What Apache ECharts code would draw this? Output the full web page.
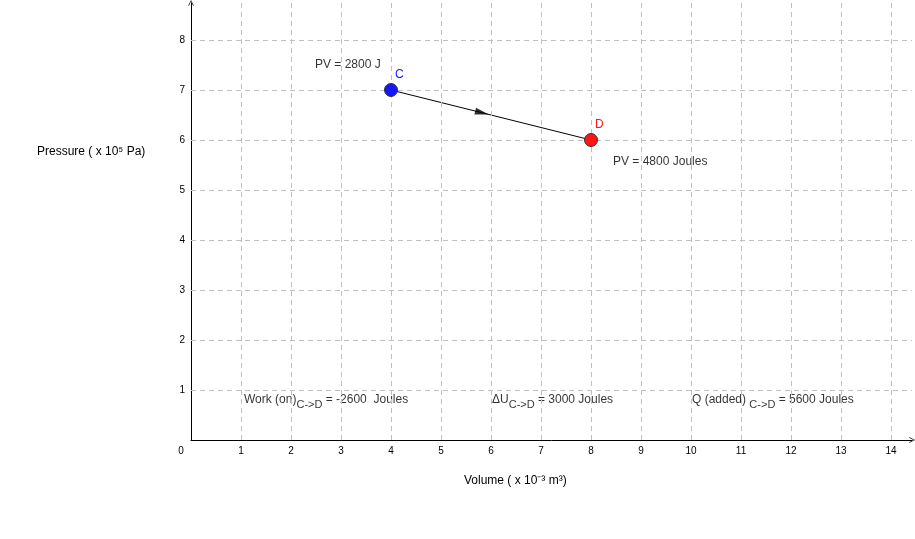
<!DOCTYPE html>
<html lang="en">
<head>
    <meta charset="UTF-8">
    <title>Process C to D</title>
    <style>
        html, body { margin: 0; padding: 0; background: #fff; }
    </style>
</head>
<body>
    <div id="main" style="width: 915px;height:539px;"></div>
    <script src="https://cdn.jsdelivr.net/npm/echarts@6/dist/echarts.min.js"></script>
<script type="text/javascript">
    // states of the gas: volume (x10^-3 m3) and pressure (x10^5 Pa)
    var pointNames = ['C', 'D'];
    var volumes = [4, 8];
    var pressures = [7, 6];
    var pointColors = ['#1515ff', '#ff1515'];

    // grid lines
    var xTicks = [1, 2, 3, 4, 5, 6, 7, 8, 9, 10, 11, 12, 13, 14];
    var yTicks = [1, 2, 3, 4, 5, 6, 7, 8];

    // text notes, anchored at their left edge in data units
    var noteX = [2.48, 8.44, 1.06, 6.02, 10.02];
    var noteY = [7.5, 5.56, 0.76, 0.76, 0.76];
    var noteText = [
        '{a|PV = 2800 J}',
        '{a|PV = 4800 Joules}',
        '{a|Work (on)}{s|C->D}{a| = -2600  Joules}',
        '{a|\u0394U}{s|C->D}{a| = 3000 Joules}',
        '{a|Q (added) }{s|C->D}{a| = 5600 Joules}'
    ];

    var font = 'Liberation Sans, Arial, sans-serif';
    var myChart = echarts.init(document.getElementById('main'));

    var gridLines = [];
    xTicks.forEach(function (v) { gridLines.push({xAxis: v}); });
    yTicks.forEach(function (v) { gridLines.push({yAxis: v}); });

    var notes = noteX.map(function (x, i) { return {value: [x, noteY[i]], label: {formatter: noteText[i]}}; });

    var pts = volumes.map(function (v, i) {
        return {
            value: [v, pressures[i]],
            name: pointNames[i],
            itemStyle: {color: pointColors[i]},
            label: {color: pointColors[i]}
        };
    });

    // arrow head sits near the middle of C->D
    var f = 0.455;
    var arrowPos = [volumes[0] + (volumes[1] - volumes[0]) * f, pressures[0] + (pressures[1] - pressures[0]) * f];

    var chevron = 'path://M0,10 L5,0 L10,10 L9,11 L5,2.5 L1,11 Z';

    myChart.setOption({
        animation: false,
        grid: {left: 191, right: 3, top: 3, bottom: 99},
        xAxis: {
            type: 'value', min: 0, max: 14.42, interval: 1,
            splitLine: {show: false}, axisTick: {show: false},
            axisLine: {lineStyle: {color: '#000', width: 1}, symbol: ['none', chevron], symbolSize: [8, 6]},
            axisLabel: {
                color: '#000', fontSize: 10, fontFamily: font, margin: 6, showMaxLabel: false,
                formatter: function (v) {
                    if (v !== Math.round(v)) return '';
                    return v === 0 ? '{z|0}' : String(v);
                },
                rich: {z: {fontSize: 10, fontFamily: font, color: '#000', padding: [0, 20, 0, 0]}}
            }
        },
        yAxis: {
            type: 'value', min: 0, max: 8.74, interval: 1,
            splitLine: {show: false}, axisTick: {show: false},
            axisLine: {lineStyle: {color: '#000', width: 1}, symbol: ['none', chevron], symbolSize: [8, 6]},
            axisLabel: {
                color: '#000', fontSize: 10, fontFamily: font, margin: 6,
                showMinLabel: false, showMaxLabel: false,
                formatter: function (v) { return v === Math.round(v) ? String(v) : ''; }
            }
        },
        graphic: [
            {type: 'text', left: 37, top: 146, style: {text: 'Pressure ( x 10\u2075 Pa)', fontSize: 12, fontFamily: font, fill: '#000'}},
            {type: 'text', left: 464, top: 475, style: {text: 'Volume ( x 10\u207B\u00B3 m\u00B3)', fontSize: 12, fontFamily: font, fill: '#000'}}
        ],
        series: [
            {
                // dashed background grid
                type: 'line', data: [], silent: true,
                markLine: {
                    silent: true, symbol: 'none', label: {show: false},
                    lineStyle: {color: '#c0c0c0', type: [5, 4], width: 1},
                    data: gridLines
                }
            },
            {
                type: 'line', data: pts.map(function (p) { return p.value; }),
                symbol: 'none', lineStyle: {color: '#000', width: 1}, z: 3
            },
            {
                id: 'arrow', type: 'scatter', data: [arrowPos], symbol: 'triangle',
                symbolSize: [7, 14], itemStyle: {color: '#000'}, z: 4, silent: true
            },
            {
                type: 'scatter', data: pts, symbolSize: 13, z: 5,
                itemStyle: {borderColor: '#333', borderWidth: 1, opacity: 1},
                label: {
                    show: true, position: 'right', distance: 0, offset: [-3, -15],
                    formatter: '{b}', fontSize: 12, fontFamily: font
                }
            },
            {
                type: 'scatter', data: notes, symbolSize: 0, clip: false, silent: true,
                label: {
                    show: true, position: 'right', distance: 0, color: '#000',
                    rich: {
                        a: {fontSize: 12, fontFamily: font, color: '#000', lineHeight: 13, verticalAlign: 'top'},
                        s: {fontSize: 11, fontFamily: font, color: '#000', lineHeight: 17, verticalAlign: 'bottom'}
                    }
                }
            }
        ]
    });

    // turn the arrow head along C->D
    var pc = myChart.convertToPixel({gridIndex: 0}, [volumes[0], pressures[0]]);
    var pd = myChart.convertToPixel({gridIndex: 0}, [volumes[1], pressures[1]]);
    var ang = Math.atan2(-(pd[1] - pc[1]), pd[0] - pc[0]) * 180 / Math.PI;
    myChart.setOption({series: [{id: 'arrow', symbolRotate: ang - 90}]});
</script>
</body>
</html>
